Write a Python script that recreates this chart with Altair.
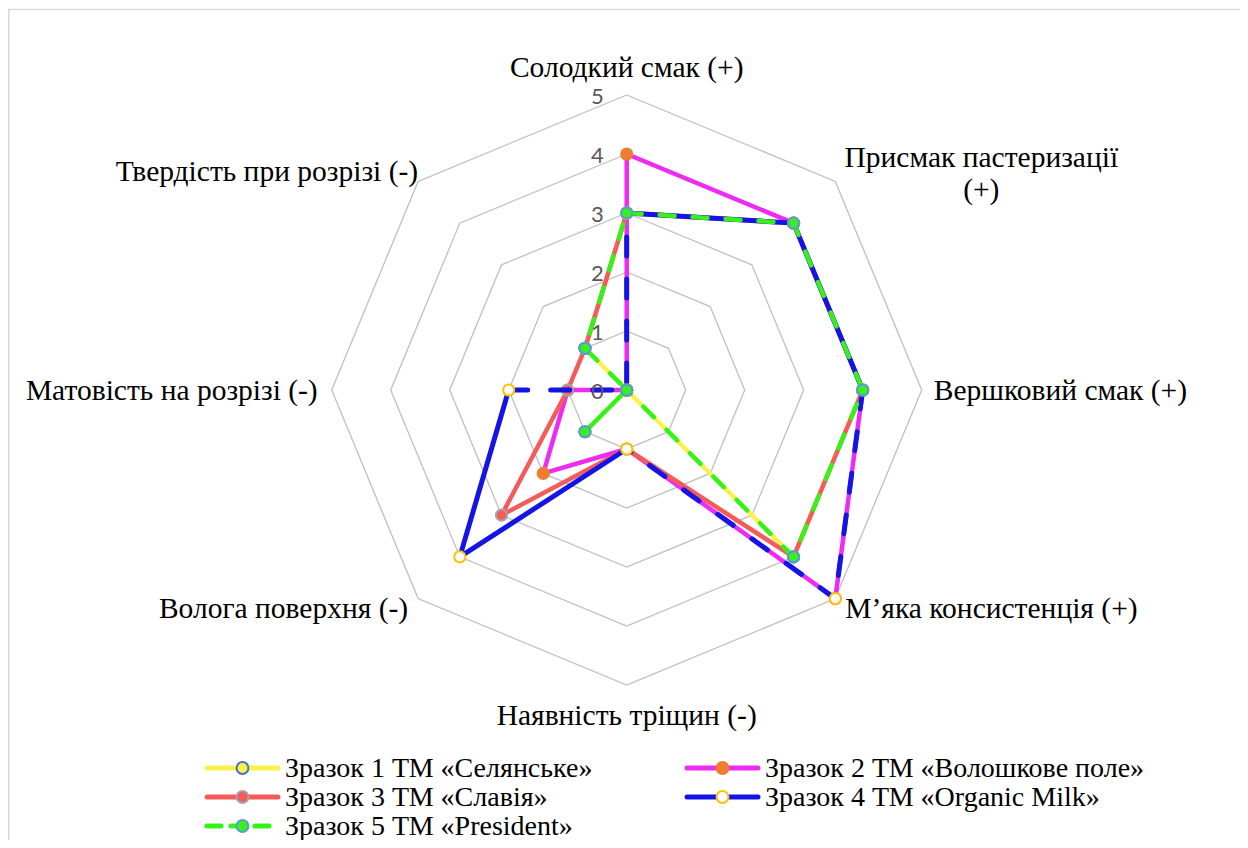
import altair as alt
import pandas as pd

# ---------------- data ----------------
CATEGORIES = [
    "Солодкий смак (+)",
    "Присмак пастеризації (+)",
    "Вершковий смак (+)",
    "М’яка консистенція (+)",
    "Наявність тріщин (-)",
    "Волога поверхня (-)",
    "Матовість на розрізі (-)",
    "Твердість при розрізі (-)",
]
SERIES = [
    "Зразок 1 ТМ «Селянське»",
    "Зразок 2 ТМ «Волошкове поле»",
    "Зразок 3 ТМ «Славія»",
    "Зразок 4 ТМ «Organic Milk»",
    "Зразок 5 ТМ «President»",
]
S1 = [3, 4, 4, 4, 0, 1, 0, 1]
S2 = [4, 4, 4, 5, 1, 2, 1, 0]
S3 = [3, 4, 4, 4, 1, 3, 1, 1]
S4 = [3, 4, 4, 5, 1, 4, 2, 0]
S5 = [3, 4, 4, 4, 0, 1, 0, 1]
VALUES = [S1, S2, S3, S4, S5]
TICKS = [0, 1, 2, 3, 4, 5]
GRID_LEVELS = [1, 2, 3, 4, 5]

# ---------------- styles ----------------
LINE_COLORS = ["#FAF24A", "#EE2BF2", "#F45B5B", "#1414E6", "#36F21A"]
MARK_FILL = ["#FAF24A", "#ED7D31", "#F45B5B", "#FFFFFF", "#36F21A"]
MARK_STROKE = ["#4472C4", "#ED7D31", "#A5A5A5", "#FFC000", "#5B9BD5"]
LINE_WIDTH = [4.5, 4.5, 4.5, 5.0, 4.5]
GREEN_DASH = [15, 18]
BLUE_DASH = [19, 23]
# pieces of each series outline: (from vertex, to vertex, dash)
PIECES = {
    0: [(0, 8, None)],
    1: [(0, 8, None)],
    2: [(0, 8, None)],
    3: [(0, 2, None), (2, 4, BLUE_DASH), (4, 6, None), (6, 8, BLUE_DASH)],
    4: [(0, 8, GREEN_DASH)],
}

W, H = 1232, 832
UNIT = 59.0
CX, CY = 618.7, 382.0
XS = alt.Scale(domain=[-CX / UNIT, (W - CX) / UNIT], nice=False, zero=False)
YS = alt.Scale(domain=[-(H - CY) / UNIT, CY / UNIT], nice=False, zero=False)
N = len(CATEGORIES)
POLAR = {
    "x": f"datum.value * sin(2 * PI * datum.idx / {N})",
    "y": f"datum.value * cos(2 * PI * datum.idx / {N})",
}
X = alt.X("x:Q", scale=XS, axis=None)
Y = alt.Y("y:Q", scale=YS, axis=None)

SERIF = "Liberation Serif"
LABEL_SIZE = 29.5
LEGEND_SIZE = 28
layers = []

# frame
frame = alt.Chart(pd.DataFrame({"a": [0]})).mark_rect(
    fill="transparent", stroke="#D9D9D9", strokeWidth=1.5
).encode(x=alt.value(0.75), x2=alt.value(1233), y=alt.value(1.5), y2=alt.value(900))
layers.append(frame)

# grid rings
grid_rows = [{"level": lv, "k": k, "idx": k % N, "value": lv} for lv in GRID_LEVELS for k in range(N + 1)]
grid = alt.Chart(pd.DataFrame(grid_rows)).transform_calculate(**POLAR).mark_line(
    color="#BFBFBF", strokeWidth=1.3
).encode(x=X, y=Y, order="k:Q", detail="level:N")
layers.append(grid)

# series
for si, (name, vals) in enumerate(zip(SERIES, VALUES)):
    rows = []
    for pi, (a, b, dash) in enumerate(PIECES[si]):
        for k in range(a, b + 1):
            rows.append({"series": name, "piece": pi, "dashed": dash is not None,
                         "k": k, "idx": k % N, "value": vals[k % N]})
    sdf = pd.DataFrame(rows)
    base = alt.Chart(sdf).transform_calculate(**POLAR)
    solid_pieces = [pi for pi, p in enumerate(PIECES[si]) if p[2] is None]
    dash_pieces = [(pi, p[2]) for pi, p in enumerate(PIECES[si]) if p[2] is not None]
    if solid_pieces:
        layers.append(
            base.transform_filter(alt.FieldOneOfPredicate(field="piece", oneOf=solid_pieces))
            .mark_line(color=LINE_COLORS[si], strokeWidth=LINE_WIDTH[si], strokeJoin="round", strokeCap="round")
            .encode(x=X, y=Y, order="k:Q", detail="piece:N")
        )
    for pi, dash in dash_pieces:
        layers.append(
            base.transform_filter(alt.datum.piece == pi)
            .mark_line(color=LINE_COLORS[si], strokeWidth=LINE_WIDTH[si], strokeDash=dash,
                       strokeJoin="round", strokeCap="round")
            .encode(x=X, y=Y, order="k:Q")
        )
    mdf = pd.DataFrame({"idx": list(range(N)), "value": vals})
    layers.append(
        alt.Chart(mdf).transform_calculate(**POLAR)
        .mark_point(shape="circle", filled=True, fill=MARK_FILL[si], stroke=MARK_STROKE[si],
                    strokeWidth=2, size=125, opacity=1, strokeOpacity=1, fillOpacity=1)
        .encode(x=X, y=Y)
    )

# tick labels (on top, as in the original)
tick_df = pd.DataFrame({"value": TICKS, "idx": [0] * len(TICKS)})
ticks = alt.Chart(tick_df).transform_calculate(**POLAR).mark_text(
    align="right", baseline="middle", dx=-23, dy=2, font="Lato", fontSize=22, color="#595959"
).encode(x=X, y=Y, text="value:Q")
layers.append(ticks)

# category labels: (align, baseline, dx, dy, wrap)
LABEL_LAYOUT = [
    ("center", "middle", 0, -27, False),
    ("center", "alphabetic", 146, -14, True),
    ("left", "middle", 12, 1, False),
    ("left", "middle", 10, 10, False),
    ("center", "middle", 0, 31, False),
    ("right", "middle", -10, 10, False),
    ("right", "middle", -14, 1, False),
    ("right", "middle", 0, -9, False),
]
lab_df = pd.DataFrame({"label": CATEGORIES, "idx": list(range(N)), "value": [max(GRID_LEVELS)] * N})
for i, (al, bl, dx, dy, wrap) in enumerate(LABEL_LAYOUT):
    ch = alt.Chart(lab_df).transform_filter(alt.datum.idx == i).transform_calculate(**POLAR)
    if wrap:
        ch = ch.transform_calculate(txt="replace(datum.label, ' (+)', '|(+)')")
    else:
        ch = ch.transform_calculate(txt="datum.label")
    layers.append(
        ch.mark_text(align=al, baseline=bl, dx=dx, dy=dy, font=SERIF, fontSize=LABEL_SIZE, color="#000000",
                     lineBreak="|", lineHeight=32)
        .encode(x=X, y=Y, text="txt:N")
    )

# legend (pixel layout)
leg_df = pd.DataFrame({"series": SERIES, "s": list(range(len(SERIES)))})
LEG = dict(x0=199, colw=480, y0=760, rowh=29, linelen=71)
leg_base = alt.Chart(leg_df).transform_calculate(
    col="datum.s % 2", row="floor(datum.s / 2)"
).transform_calculate(
    lx1=f"{LEG['x0']} + datum.col * {LEG['colw']}",
    lx2=f"{LEG['x0'] + LEG['linelen']} + datum.col * {LEG['colw']}",
    mx=f"{LEG['x0'] + LEG['linelen'] / 2} + datum.col * {LEG['colw']}",
    tx=f"{LEG['x0'] + LEG['linelen'] + 7} + datum.col * {LEG['colw']}",
    ly=f"{LEG['y0']} + datum.row * {LEG['rowh']}",
)
for si in range(len(SERIES)):
    b = leg_base.transform_filter(alt.datum.s == si)
    kw = dict(color=LINE_COLORS[si], strokeWidth=5, strokeCap="round")
    if si == 4:
        kw["strokeDash"] = [14, 10]
    layers.append(
        b.mark_rule(**kw).encode(
            x=alt.X("lx1:Q", scale=None), x2="lx2:Q", y=alt.Y("ly:Q", scale=None)
        )
    )
    layers.append(
        b.mark_point(shape="circle", filled=True, fill=MARK_FILL[si], stroke=MARK_STROKE[si],
                     strokeWidth=2, size=140, opacity=1)
        .encode(x=alt.X("mx:Q", scale=None), y=alt.Y("ly:Q", scale=None))
    )
layers.append(
    leg_base.mark_text(align="left", baseline="middle", font=SERIF, fontSize=LEGEND_SIZE, color="#000000", dy=1)
    .encode(x=alt.X("tx:Q", scale=None), y=alt.Y("ly:Q", scale=None), text="series:N")
)

chart = alt.layer(*layers).properties(
    width=W, height=H, padding=0, autosize="none", background="white"
).configure_view(stroke=None)

chart.save("out.html", embed_options={"renderer": "svg", "actions": False})
